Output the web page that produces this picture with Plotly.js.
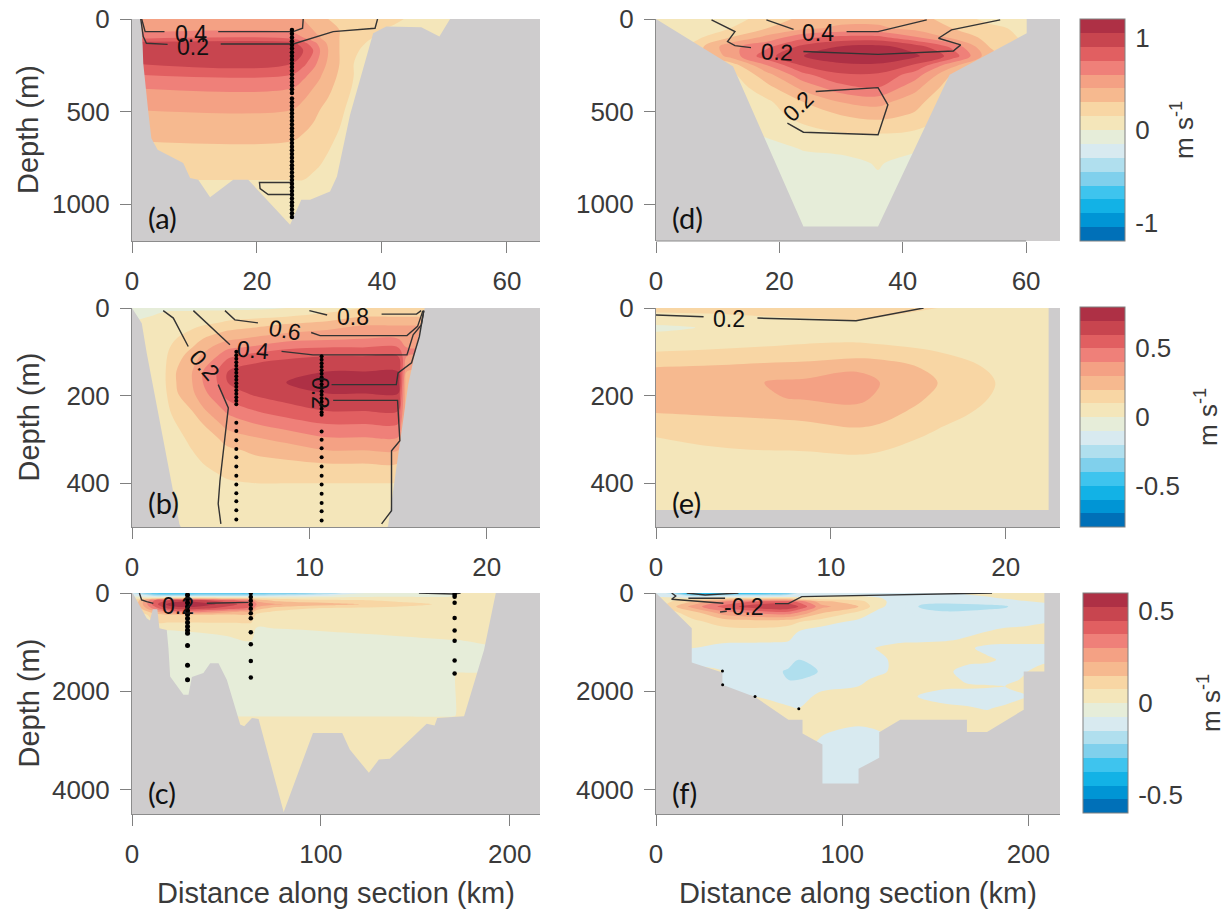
<!DOCTYPE html>
<html><head><meta charset="utf-8">
<script src="https://cdn.plot.ly/plotly-3.0.1.min.js"></script>
<style>html,body{margin:0;padding:0;background:#fff}#p{width:1228px;height:911px}</style></head>
<body><div id="p"></div>
<script>
const bandColors=['#0070b8','#0095d5','#12b2e6','#3ec4ee','#80d0ec','#b0dfee','#d8eaf0','#e6edd9','#f4e6ba','#f8d6a4','#f6b98f','#f4a184','#ef8079','#e15f61','#c8454f','#ae3045'];
const bedColor='#cecccd';
// ---- panel a
const aX=[0,25.6,27.4,29,30.1,31.4,33.2,35.5,38.5,42,46,52,65];
const aDepth=[0,60,100,130,170,240,300,375,490,660,870,1200];
const aZ=[
[.5,.5,.45,.4,.35,.3,.3,.25,.22,.18,.1,.1,.1],
[.55,.55,.5,.45,.4,.35,.3,.25,.17,.12,.1,.1,.1],
[.7,.7,.6,.5,.45,.38,.3,.22,.15,.1,.1,.1,.1],
[.95,.95,.8,.65,.55,.42,.3,.2,.12,.1,.1,.1,.1],
[1.0,1.0,.9,.75,.6,.45,.3,.17,.1,.1,.1,.1,.1],
[.9,.9,.8,.65,.55,.42,.3,.15,.1,.1,.1,.1,.1],
[.75,.75,.65,.55,.47,.38,.28,.15,.1,.1,.1,.1,.1],
[.6,.6,.52,.45,.4,.33,.25,.13,.08,.08,.08,.08,.08],
[.45,.45,.4,.35,.3,.26,.18,.1,.06,.06,.06,.06,.06],
[.3,.3,.27,.23,.2,.17,.13,.05,.05,.05,.05,.05,.05],
[.15,.15,.15,.13,.12,.1,.08,.05,.05,.05,.05,.05,.05],
[.14,.14,.14,.12,.1,.1,.06,.05,.05,.05,.05,.05,.05]];
const aBedX=[0,1.4,1.7,1.8,2.6,3.1,4.1,8.2,9.3,10.6,12.5,16.2,18.6,25.3,27.1,28.5,31.7,32.8,34.9,38.6,40.7,46.3,49.2,50.9,65.3,65.3,0];
const aBedDepth=[0,0,140,239,500,644,707,779,860,869,963,869,869,1112,977,977,932,851,518,77,41,45,95,0,0,1200,1200];
const aLineX=[1.55,2.1,5.2,null,13.8,25.8,27.3,27.4,null,1.4,1.8,2.3,5.7,null,14.2,25.8,32.2,38.9,39.3,null,25.8,20.4,20.5,21.8,25.8];
const aLineDepth=[0,68,68,null,68,68,50,0,null,0,95,131,137,null,135,135,68,50,0,null,884,884,917,949,949];
const aDotX=[25.6];
const aDotDepth=[60,80,100,120,140,160,180,200,220,240,260,280,300,320,340,360,380,400,430,450,470,490,510,530,550,570,590,610,630,650,670,690,710,730,750,770,790,810,830,850,870,890,910,930,950,970,990,1010,1030,1050,1070];
// ---- panel d
const dX=[0,6,12,18,24,30,36,42,48,54,60,66];
const dDepth=[0,50,100,150,200,250,300,370,450,520,620,700,780,1000,1200];
const dZ=[
[.05,.05,.1,.2,.35,.4,.4,.35,.25,.1,.05,.05],
[.05,.05,.15,.3,.42,.48,.48,.4,.3,.2,.1,.1],
[.05,.1,.3,.5,.72,.8,.8,.62,.42,.25,.12,.1],
[.1,.2,.55,.72,.95,1.06,1.1,.98,.72,.3,.15,.1],
[.1,.2,.5,.85,1.05,1.14,1.18,1.08,.85,.35,.15,.1],
[.1,.1,.2,.6,.92,1.02,1.02,.88,.5,.2,.1,.1],
[.05,.05,.1,.4,.72,.88,.88,.68,.3,.1,.1,.1],
[.05,.05,.05,.25,.5,.7,.75,.5,.2,.05,.05,.05],
[.05,.05,.05,.12,.3,.45,.5,.35,.15,.05,.05,.05],
[.05,.05,.05,.1,.2,.3,.35,.28,.12,.05,.05,.05],
[-.05,-.05,-.05,.02,.1,.14,.15,.12,.05,-.05,-.05,-.05],
[-.05,-.05,-.05,-.05,.01,.03,.05,.02,-.05,-.05,-.05,-.05],
[-.05,-.05,-.05,-.05,-.05,-.04,.01,-.05,-.05,-.05,-.05,-.05],
[-.05,-.05,-.05,-.05,-.05,-.05,-.05,-.05,-.05,-.05,-.05,-.05],
[-.05,-.05,-.05,-.05,-.05,-.05,-.05,-.05,-.05,-.05,-.05,-.05]];
const dBedX=[0,12.5,23.9,36,47.6,60.1,60.1,65.5,65.5,0];
const dBedDepth=[0,257,1121,1121,302,77,0,0,1200,1200];
const dLineX=[9,12.8,11.6,12.8,15.4,null,23.9,36,48.2,49.4,45.8,47.9,55.8,null,17.9,22.3,null,30.9,36,43.9,null,25.9,36,37.6,36,23.9,21.3];
const dLineDepth=[5,68,122,144,155,null,176,191,173,140,104,59,5,null,5,56,null,68,68,5,null,392,371,464,626,612,563];
// ---- panel b
const bX=[0,1.9,2.5,3.4,4,4.8,5.4,7,8.7,11,13,15,15.5,17,23];
const bDepth=[0,20,40,70,90,110,145,170,195,235,265,295,325,355,400,500];
const bZ=[
[-.03,-.02,-.02,-.02,-.02,-.02,-.02,-.02,0,.05,.1,.1,.1,.1,.1],
[-.03,.03,.04,.04,.05,.05,.06,.08,.1,.14,.2,.2,.2,.2,.2],
[.03,.05,.06,.08,.1,.12,.15,.18,.22,.26,.3,.3,.3,.3,.3],
[.05,.07,.1,.15,.2,.25,.28,.32,.36,.38,.4,.4,.35,.35,.35],
[.05,.08,.13,.2,.26,.33,.38,.42,.48,.5,.5,.5,.4,.4,.4],
[.05,.09,.16,.25,.32,.4,.48,.55,.58,.6,.6,.6,.4,.4,.4],
[.05,.1,.2,.3,.4,.5,.6,.66,.68,.7,.7,.7,.3,.3,.3],
[.05,.1,.2,.3,.4,.5,.6,.66,.7,.76,.76,.76,.2,.2,.2],
[.05,.09,.19,.28,.37,.46,.55,.62,.66,.7,.7,.7,.2,.2,.2],
[.05,.07,.14,.2,.28,.36,.42,.5,.55,.6,.6,.6,.2,.2,.2],
[.05,.06,.1,.16,.2,.28,.34,.4,.45,.5,.5,.5,.2,.2,.2],
[.05,.05,.08,.12,.15,.2,.25,.3,.34,.4,.4,.4,.2,.2,.2],
[.04,.05,.06,.1,.12,.15,.18,.22,.25,.3,.3,.3,.2,.2,.2],
[.04,.04,.05,.07,.1,.12,.14,.17,.18,.2,.2,.2,.15,.15,.15],
[.03,.04,.04,.05,.06,.08,.09,.1,.1,.1,.1,.1,.1,.1,.1],
[.03,.03,.03,.03,.03,.04,.04,.05,.05,.05,.05,.05,.05,.05,.05]];
const bBedX=[0,.55,.83,1.39,1.95,2.67,2.75,14.4,14.44,14.7,15.1,15.57,16.13,16.5,23,23,0];
const bBedDepth=[0,35,103,220,341,493,500,500,497,424,311,175,69,0,0,500,500];
const bLineX=[1.76,2.33,3.17,null,4.86,5.43,4.96,4.86,5.01,null,3.46,5.52,null,8.43,10.2,15.5,15.85,16.3,16.45,null,5.24,5.8,7.1,null,10.1,10.6,15.5,16.1,16.4,null,10,11,null,14.07,16.04,16.3,null,11.25,14.9,15,15.76,16.2,16.45,null,11.34,14.97,15.1,14.63,14.63,14.07];
const bLineDepth=[6,23,88,null,175,228,394,447,493,null,6,84,null,99,107,107,61,39,6,null,6,27,34,null,56,63,63,42,6,null,6,16,null,14,14,6,null,175,175,148,125,65,6,null,211,211,303,326,463,493];
const bDot1X=[5.88];
const bDot1Depth=[100,108,116,124,132,140,148,156,164,172,180,188,196,204,212,220,262,281,302,322,341,362,383,403,423,441,462,483];
const bDot2X=[10.69];
const bDot2Depth=[110,118,126,134,142,150,158,166,174,182,190,198,206,214,222,230,238,244,282,301,320,341,362,383,403,424,445,464,485];
// ---- panel e
const eX=[0,3,6.2,8.5,11.44,12.8,16.1,19.4,22.5,23.1];
const eDepth=[0,25,45,70,100,135,170,205,240,295,335,400,500];
const eZ=[
[.12,.12,.13,.14,.15,.15,.1,.05,.05,.05],
[.07,.08,.09,.095,.105,.09,.05,.04,.03,.03],
[-.03,.01,.04,.05,.06,.06,.04,.03,.03,.03],
[.05,.05,.07,.08,.08,.07,.05,.03,.03,.03],
[.1,.11,.12,.13,.15,.14,.1,.05,.03,.03],
[.2,.21,.23,.24,.27,.26,.17,.08,.04,.04],
[.25,.26,.3,.32,.37,.3,.2,.1,.05,.05],
[.24,.26,.29,.31,.33,.28,.18,.09,.04,.04],
[.2,.21,.22,.23,.26,.24,.14,.07,.04,.04],
[.1,.12,.13,.14,.16,.15,.08,.05,.03,.03],
[.07,.08,.09,.09,.1,.09,.06,.04,.03,.03],
[.05,.05,.05,.05,.05,.05,.05,.04,.03,.03],
[.04,.04,.04,.04,.04,.04,.04,.04,.03,.03]];
const eBedX=[22.45,23.1,23.1,0,0,22.45];
const eBedDepth=[0,0,500,500,461,461];
const eLineX=[0,2.72,null,5.8,11.44,15.3];
const eLineDepth=[16,20,null,23,29,0];
// ---- panel c
const cX=[0,12,20,30,40,50,63,66,75,90,105,120,140,170,172,180,195,216];
const cDepth=[0,60,100,150,230,310,380,450,600,620,1000,1600,1640,2500,2520,4500];
const cZ=[
[-.15,-.34,-.34,-.34,-.34,-.34,-.34,-.32,-.3,-.26,-.2,-.08,-.05,-.03,.03,.03,.03,.03],
[-.05,-.15,-.16,-.16,-.15,-.15,-.15,-.14,-.12,-.1,-.06,-.03,-.02,-.01,.03,.03,.03,.03],
[.02,.05,.1,.1,.08,.07,.06,.05,.04,.03,.03,.03,.03,.03,.03,.03,.03,.03],
[.04,.38,.46,.5,.45,.4,.32,.2,.13,.1,.09,.08,.06,.05,.05,.04,.04,.04],
[.05,.42,.56,.58,.55,.49,.4,.3,.24,.2,.18,.155,.1,.06,.06,.05,.05,.05],
[.03,.34,.48,.5,.46,.42,.36,.2,.12,.08,.07,.06,.06,.05,.05,.05,.05,.05],
[.02,.2,.32,.34,.3,.25,.2,.1,.07,.06,.05,.05,.05,.05,.05,.05,.05,.05],
[.02,.1,.13,.13,.13,.13,.13,.06,.05,.05,.05,.05,.05,.05,.05,.05,.05,.05],
[.02,.08,.08,.08,.08,.08,.08,.04,.04,.04,.05,.05,.06,.07,.07,.07,.07,.07],
[.037,.037,.037,.045,.054,.06,.07,.02,.026,.034,.045,.054,.06,.07,.07,.07,.07,.07],
[-.063,-.063,-.063,-.055,-.046,-.03,-.006,-.075,-.07,-.066,-.055,-.046,-.03,-.01,-.01,0,.01,.01],
[-.05,-.05,-.05,-.05,-.05,-.05,-.05,-.05,-.05,-.05,-.05,-.05,-.05,-.05,-.05,-.05,-.05,-.05],
[-.05,-.05,-.05,-.05,-.05,-.05,-.05,-.05,-.05,-.05,-.05,-.05,-.05,-.05,.03,.03,.03,.03],
[-.05,-.05,-.05,-.05,-.05,-.05,-.05,-.05,-.05,-.05,-.05,-.05,-.05,-.05,.03,.03,.03,.03],
[.03,.03,.03,.03,.03,.03,.03,.03,.03,.03,.03,.03,.03,.03,.03,.03,.03,.03],
[.03,.03,.03,.03,.03,.03,.03,.03,.03,.03,.03,.03,.03,.03,.03,.03,.03,.03]];
const cBedX=[0,.35,7.8,9.5,11,13.4,14.5,18.4,19.3,20.2,27.2,29.9,31.7,37.8,41.4,45.8,50.2,57.3,59.4,63.5,67,80.3,95.8,111.3,115.3,125.4,130.7,136.5,156,160.2,161.6,175.8,186.4,189.9,192.6,216,216,0];
const cBedDepth=[0,0,514,562,331,331,717,751,1123,1699,2071,2071,1712,1631,1428,1428,1766,2680,2714,2544,2565,4460,2849,2849,3188,3661,3391,3377,2660,2700,2544,2511,1157,481,0,0,4500,4500];
const cLineX=[3.9,5.1,7.8,11.3,null,39.6,61.7,null,151.9,170.4,174];
const cLineDepth=[0,142,176,210,null,210,190,null,0,20,0];
const cDot1X=[29.4];
const cDot1Depth=[41,120,200,280,360,440,520,600,680,760,819,1070,1469,1766];
const cDot2X=[62.9];
const cDot2Depth=[0,80,160,240,320,413,514,798,1042,1387,1719];
const cDot3X=[170.8];
const cDot3Depth=[0,40,75,196,507,765,974,1374,1638];
// ---- panel f
const fX=[0,19.2,35.7,53.2,71.1,76.5,89,108.8,119.5,131.2,142.8,155.4,167,177.8,187.6,197.5,208.6,217];
const fDepth=[0,108,176,277,413,582,785,954,1124,1360,1597,1766,1901,2105,2342,2579,2850,3120,3900,4500];
const fZ=[
[-.05,-.42,-.4,-.38,-.3,-.14,-.05,-.05,-.05,-.05,-.05,-.04,.02,.04,.05,.05,.05,.05],
[.02,.05,.1,.1,.1,.05,.04,.04,.01,-.05,-.06,-.06,-.05,-.02,.01,.03,.04,.04],
[.02,.15,.3,.38,.4,.36,.18,.1,.03,-.05,-.12,-.12,-.1,-.08,-.05,-.01,.01,.01],
[.02,.25,.4,.5,.52,.45,.25,.15,.02,-.05,-.17,-.2,-.2,-.19,-.17,-.05,-.04,-.04],
[.02,.1,.25,.3,.33,.28,.15,.05,-.03,-.05,-.1,-.13,-.12,-.1,-.08,-.05,-.04,-.04],
[.02,.06,.1,.12,.1,.08,.04,-.02,-.05,-.05,-.05,-.05,-.05,-.05,-.05,-.05,-.01,-.01],
[.02,.05,.05,.05,.04,0,-.04,-.05,-.05,-.05,-.05,-.05,-.02,0,.03,.05,.05,.05],
[.02,.02,.02,.02,.01,-.04,-.05,-.05,-.05,-.03,-.02,-.01,.01,.05,.05,.05,.05,.05],
[0,0,-.03,-.04,-.05,-.05,-.05,-.05,.01,.05,.05,.05,.02,-.03,-.05,-.05,-.05,-.05],
[-.02,-.02,-.05,-.05,-.09,-.15,-.05,-.05,-.03,.04,.05,.05,.04,.02,-.02,-.03,-.02,-.02],
[.02,.02,0,-.05,-.17,-.2,-.14,-.05,-.02,.03,.05,.03,-.05,-.05,-.05,-.01,.04,.04],
[.02,.02,-.03,-.05,-.15,-.15,-.05,-.02,.02,.05,.05,.05,-.02,-.04,-.03,.01,.04,.04],
[.02,.02,-.02,-.05,-.05,-.05,-.02,0,.05,.05,.03,.02,.015,.01,0,.03,.04,.04],
[.02,.02,.02,0,-.04,-.03,.02,.05,.05,.04,-.01,-.05,-.05,-.05,-.05,-.01,.03,.03],
[.03,.03,.03,.03,.01,0,.04,.05,.05,.05,.04,.03,.01,-.01,.02,.05,.05,.05],
[.05,.05,.05,.05,.05,.05,.05,.05,.05,.05,.05,.05,.05,.05,.05,.05,.05,.05],
[.05,.05,.05,.05,.05,.05,.01,-.05,-.01,.05,.05,.05,.05,.05,.05,.05,.05,.05],
[.05,.05,.05,.05,.05,.05,-.03,-.05,-.05,-.05,.05,.05,.05,.05,.05,.05,.05,.05],
[-.05,-.05,-.05,-.05,-.05,-.05,-.05,-.05,-.05,-.05,-.05,-.05,-.05,-.05,-.05,-.05,-.05,-.05],
[-.05,-.05,-.05,-.05,-.05,-.05,-.05,-.05,-.05,-.05,-.05,-.05,-.05,-.05,-.05,-.05,-.05,-.05]];
const fBedX=[0,19.2,19.2,35.7,35.7,53.2,71.1,78.7,78.7,89.4,89.4,108.8,108.8,119.9,119.9,131.2,167,167,177.8,197.5,197.5,208.6,208.6,217,217,0];
const fBedDepth=[0,717,1415,1617,1868,2118,2579,2579,2863,3086,3878,3878,3580,3357,2836,2579,2579,2830,2830,2376,1597,1597,0,0,4500,4500];
const fLineX=[16.5,26.4,44.3,null,17.4,37.1,null,8.4,10.6,8.4,36.2,null,34.4,38,null,63.9,71.1,78.3,180.5];
const fLineDepth=[0,41,0,null,108,108,null,0,61,128,210,null,388,372,null,217,217,74,0];
const fDotX=[35.7,35.8,53.2,76.7];
const fDotDepth=[1590,1868,2105,2355];
// ---- tick labels / axis settings
const aTickX=[0,20,40,60], bTickX=[0,10,20], cTickX=[0,100,200];
const aTickY=[0,500,1000], bTickY=[0,200,400], cTickY=[0,2000,4000];
const cb1Ticks=[-1,0,1], cb2Ticks=[-.5,0,.5], cb3Ticks=[-.5,0,.5];

const W=1228,H=911;
const sans='"Liberation Sans",Arial,sans-serif';
const fnt={family:sans,size:26,color:'#3a3a3a'};
const ttl={family:sans,size:29,color:'#3a3a3a'};
function stepScale(cols){const s=[];cols.forEach((c,i)=>{s.push([i/cols.length,c]);s.push([(i+1)/cols.length,c]);});return s;}
const fColors=bandColors.slice();fColors[7]=fColors[6];

const panels=[
 {id:'',X:aX,Y:aDepth,Z:aZ,bx:aBedX,by:aBedDepth,lx:aLineX,ly:aLineDepth,lim:1.2,r:[0,65.3],yr:[1200,0],px:[132,540],py:[19,241],tx:aTickX,ty:aTickY,cb:{t:cb1Ticks,py:[19,241],x:1080,tx:1183},
  dots:[[aDotX,aDotDepth,4.5]],lab:'(a)',lp:[146,217],ytitle:true,text:[['0.4',9.5,81,0],['0.2',9.8,149,0]]},
 {id:'2',X:bX,Y:bDepth,Z:bZ,bx:bBedX,by:bBedDepth,lx:bLineX,ly:bLineDepth,lim:.8,r:[0,23],yr:[500,0],px:[132,540],py:[308,527],tx:bTickX,ty:bTickY,cb:{t:cb2Ticks,py:[307,527],x:1080,tx:1206},
  dots:[[bDot1X,bDot1Depth,4],[bDot2X,bDot2Depth,4]],lab:'(b)',lp:[146,503],ytitle:true,text:[['0.2',4.1,129,50],['0.4',6.84,95,5],['0.6',8.6,50,10],['0.8',12.47,20,0],['0.2',10.6,194,90]]},
 {id:'3',X:cX,Y:cDepth,Z:cZ,bx:cBedX,by:cBedDepth,lx:cLineX,ly:cLineDepth,lim:.6,r:[0,216],yr:[4500,0],px:[132,540],py:[593,814],tx:cTickX,ty:cTickY,cb:{t:cb3Ticks,py:[593,813],x:1083,tx:1209},
  dots:[[cDot1X,cDot1Depth,5],[cDot2X,cDot2Depth,4.5],[cDot3X,cDot3Depth,4.5]],lab:'(c)',lp:[146,792],ytitle:true,xtitle:true,text:[['0.2',24.6,264,0]]},
 {id:'4',X:dX,Y:dDepth,Z:dZ,bx:dBedX,by:dBedDepth,lx:dLineX,ly:dLineDepth,lim:1.2,r:[0,65.5],yr:[1200,0],px:[656,1060],py:[19,241],tx:aTickX,ty:aTickY,
  dots:[],lab:'(d)',lp:[670,217],text:[['0.4',26.3,77,0],['0.2',19.6,176,3],['0.2',23.1,470,-45]]},
 {id:'5',X:eX,Y:eDepth,Z:eZ,bx:eBedX,by:eBedDepth,lx:eLineX,ly:eLineDepth,lim:.8,r:[0,23.1],yr:[500,0],px:[656,1060],py:[308,527],tx:bTickX,ty:bTickY,
  dots:[],lab:'(e)',lp:[670,503],text:[['0.2',4.2,25,0]]},
 {id:'6',X:fX,Y:fDepth,Z:fZ,bx:fBedX,by:fBedDepth,lx:fLineX,ly:fLineDepth,lim:.6,r:[0,217],yr:[4500,0],px:[656,1060],py:[593,814],tx:cTickX,ty:cTickY,colors:fColors,
  dots:[[fDotX,fDotDepth,3]],lab:'(f)',lp:[670,792],xtitle:true,text:[['-0.2',47,277,0]]}
];
const traces=[],layout={width:W,height:H,autosize:false,margin:{l:0,r:0,t:0,b:0,autoexpand:false},paper_bgcolor:'#fff',plot_bgcolor:'#fff',showlegend:false,annotations:[],shapes:[],font:fnt};
function paperText(text,px,py,font,angle,anchor){layout.annotations.push({xref:'paper',yref:'paper',x:px/W,y:1-py/H,xanchor:anchor||'center',yanchor:'middle',text:text,textangle:angle||0,showarrow:false,font:font});}
panels.forEach(p=>{
 const xa='x'+p.id,ya='y'+p.id,size=p.lim/8;
 const t={type:'contour',x:p.X,y:p.Y,z:p.Z,xaxis:xa,yaxis:ya,autocontour:false,zauto:false,zmin:-p.lim,zmax:p.lim,
  contours:{coloring:'fill',showlines:false,start:-p.lim,end:p.lim,size:size},line:{width:0},colorscale:stepScale(p.colors||bandColors),hoverinfo:'skip',showscale:!!p.cb};
 if(p.cb){t.colorbar={x:p.cb.x/W,xanchor:'left',xpad:0,ypad:0,thicknessmode:'pixels',thickness:45,lenmode:'pixels',len:p.cb.py[1]-p.cb.py[0],y:1-p.cb.py[0]/H,yanchor:'top',
   tickvals:p.cb.t,ticktext:p.cb.t.map(String),ticks:'outside',ticklen:5,tickcolor:'rgba(0,0,0,0)',tickfont:fnt,outlinecolor:'#808080',outlinewidth:1};
   paperText('m s<sup>-1</sup>',p.cb.tx,(p.cb.py[0]+p.cb.py[1])/2,{family:sans,size:26,color:'#3a3a3a'},-90);}
 traces.push(t);
 traces.push({type:'scatter',mode:'lines',x:p.bx,y:p.by,xaxis:xa,yaxis:ya,fill:'toself',fillcolor:bedColor,line:{width:0,color:bedColor},hoverinfo:'skip'});
 traces.push({type:'scatter',mode:'lines',x:p.lx,y:p.ly,xaxis:xa,yaxis:ya,line:{color:'#333',width:1.4},connectgaps:false,hoverinfo:'skip'});
 p.dots.forEach(d=>traces.push({type:'scatter',mode:'markers',x:d[0].length===1?d[1].map(()=>d[0][0]):d[0],y:d[1],xaxis:xa,yaxis:ya,marker:{color:'#000',size:d[2]},hoverinfo:'skip'}));
 const axisBase={showgrid:false,zeroline:false,showline:true,linecolor:'#8c8c8c',linewidth:1,ticks:'outside',ticklen:11,tickcolor:'#808080',tickfont:fnt};
 layout['xaxis'+p.id]={...axisBase,domain:[p.px[0]/W,p.px[1]/W],range:p.r,anchor:ya,tickmode:'array',tickvals:p.tx,ticktext:p.tx.map(String),ticklabelstandoff:6};
 layout['yaxis'+p.id]={...axisBase,domain:[1-p.py[1]/H,1-p.py[0]/H],range:p.yr,anchor:xa,tickmode:'array',tickvals:p.ty,ticktext:p.ty.map(String),ticklabelstandoff:5};
 if(p.xtitle) paperText('Distance along section (km)',(p.px[0]+p.px[1])/2,893,ttl);
 if(p.ytitle) paperText('Depth (m)',28,(p.py[0]+p.py[1])/2,ttl,-90);
 p.text.forEach(q=>layout.annotations.push({xref:xa,yref:ya,x:q[1],y:q[2],text:q[0],textangle:q[3],showarrow:false,font:{family:sans,size:23,color:'#111'}}));
 paperText(p.lab,p.lp[0],p.lp[1],{family:'Lato,sans-serif',size:29,color:'#111'},0,'left');
});
layout.xaxis4.showline=false;
layout.shapes.push({type:'line',xref:'x4',yref:'paper',x0:0,x1:60,y0:1-241/H,y1:1-241/H,line:{color:'#8c8c8c',width:1}});
Plotly.newPlot('p',traces,layout,{displayModeBar:false,staticPlot:true});
</script></body></html>
